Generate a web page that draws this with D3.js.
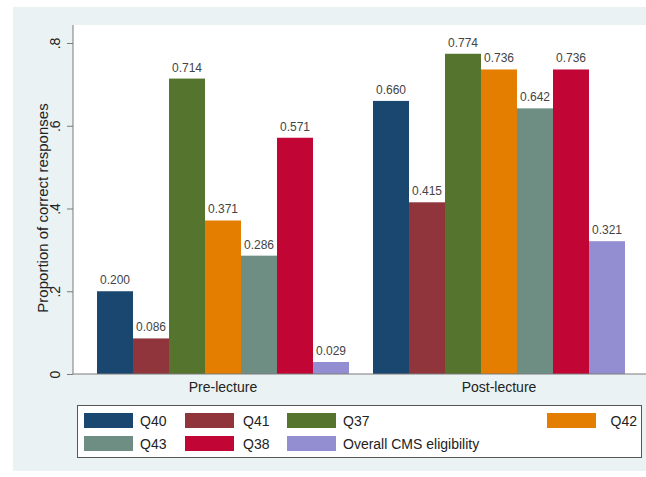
<!DOCTYPE html>
<html>
<head>
<meta charset="utf-8">
<script src="https://cdn.jsdelivr.net/npm/d3@7"></script>
<style>
  body { margin: 0; background: #fff; }
  text { font-family: "Liberation Sans", Arial, sans-serif; }
</style>
</head>
<body>
<div id="chart"></div>
<script>
// data
const groups = ["Pre-lecture", "Post-lecture"];
const series = ["Q40", "Q41", "Q37", "Q42", "Q43", "Q38", "Overall CMS eligibility"];
const preValues = [0.200, 0.086, 0.714, 0.371, 0.286, 0.571, 0.029];
const postValues = [0.660, 0.415, 0.774, 0.736, 0.642, 0.736, 0.321];
const yTicks = [0, 0.2, 0.4, 0.6, 0.8];
const colors = ["#1a476f", "#90353b", "#55752f", "#e37e00", "#6e8e84", "#c10534", "#938dd2"];

const width = 646, height = 477;
const plot = { left: 73, top: 25, right: 649, bottom: 374 };

const svg = d3.select("#chart").append("svg")
    .attr("width", width)
    .attr("height", height);

// outer graph region
svg.append("rect")
    .attr("x", 13).attr("y", 7)
    .attr("width", width - 13).attr("height", 464)
    .attr("fill", "#eaf2f3");

// plot region
svg.append("rect")
    .attr("x", plot.left).attr("y", plot.top)
    .attr("width", plot.right - plot.left).attr("height", plot.bottom - plot.top)
    .attr("fill", "#fff");

const x0 = d3.scaleBand()
    .domain(groups)
    .range([plot.left, plot.right])
    .padding(0.087);

const x1 = d3.scaleBand()
    .domain(series)
    .range([0, x0.bandwidth()]);

const y = d3.scaleLinear()
    .domain([0, 0.8])
    .range([plot.bottom, 43]);

const color = d3.scaleOrdinal().domain(series).range(colors);

const rows = groups.map((g, gi) => ({
    group: g,
    values: series.map((s, si) => ({ series: s, value: (gi === 0 ? preValues : postValues)[si] }))
}));

const gGroup = svg.append("g").selectAll("g")
    .data(rows)
    .enter().append("g")
    .attr("transform", d => `translate(${x0(d.group)},0)`);

gGroup.selectAll("rect")
    .data(d => d.values)
    .enter().append("rect")
    .attr("x", d => x1(d.series))
    .attr("y", d => y(d.value))
    .attr("width", x1.bandwidth())
    .attr("height", d => y(0) - y(d.value))
    .attr("fill", d => color(d.series));

gGroup.selectAll("text")
    .data(d => d.values)
    .enter().append("text")
    .attr("x", d => x1(d.series) + x1.bandwidth() / 2)
    .attr("y", d => y(d.value) - 7)
    .attr("text-anchor", "middle")
    .attr("font-size", 12)
    .attr("fill", "#444")
    .text(d => d.value.toFixed(3));

// y axis
const yAxis = svg.append("g")
    .attr("transform", `translate(${plot.left},0)`)
    .call(d3.axisLeft(y).tickValues(yTicks).tickSize(6).tickFormat(d => d === 0 ? "0" : d3.format(".1f")(d).replace(/^0/, "")));
yAxis.select(".domain").attr("d", `M0,${plot.top}V${plot.bottom}`).attr("stroke", "#7a7a7a");
yAxis.selectAll(".tick line").attr("stroke", "#7a7a7a");
yAxis.selectAll(".tick text")
    .attr("x", null).attr("dy", null)
    .attr("transform", "translate(-13,0) rotate(-90)")
    .attr("text-anchor", "middle")
    .attr("font-size", 14)
    .attr("fill", "#222");

// x baseline
svg.append("line")
    .attr("x1", plot.left).attr("x2", width)
    .attr("y1", plot.bottom).attr("y2", plot.bottom)
    .attr("stroke", "#7a7a7a");

// group labels
svg.append("g").selectAll("text")
    .data(groups)
    .enter().append("text")
    .attr("x", d => x0(d) + x0.bandwidth() / 2)
    .attr("y", 392)
    .attr("text-anchor", "middle")
    .attr("font-size", 14)
    .attr("fill", "#222")
    .text(d => d);

// y title
svg.append("text")
    .attr("transform", "translate(48,208) rotate(-90)")
    .attr("text-anchor", "middle")
    .attr("font-size", 15)
    .attr("fill", "#222")
    .text("Proportion of correct responses");

// legend
svg.append("rect")
    .attr("x", 77.5).attr("y", 405.5)
    .attr("width", 564).attr("height", 52)
    .attr("fill", "#fff")
    .attr("stroke", "#555");

const legendPos = [
    { sx: 84, tx: 140, y: 413 },
    { sx: 185, tx: 243, y: 413 },
    { sx: 287, tx: 343, y: 413 },
    { sx: 547, tx: 637, y: 413, anchor: "end" },
    { sx: 84, tx: 140, y: 436 },
    { sx: 185, tx: 243, y: 436 },
    { sx: 287, tx: 343, y: 436 }
];

const legend = svg.append("g").selectAll("g")
    .data(series)
    .enter().append("g");

legend.append("rect")
    .attr("x", (d, i) => legendPos[i].sx)
    .attr("y", (d, i) => legendPos[i].y)
    .attr("width", 49)
    .attr("height", 15)
    .attr("fill", d => color(d));

legend.append("text")
    .attr("x", (d, i) => legendPos[i].tx)
    .attr("y", (d, i) => legendPos[i].y + 13)
    .attr("text-anchor", (d, i) => legendPos[i].anchor || "start")
    .attr("font-size", 14)
    .attr("fill", "#222")
    .text(d => d);
</script>
</body>
</html>
